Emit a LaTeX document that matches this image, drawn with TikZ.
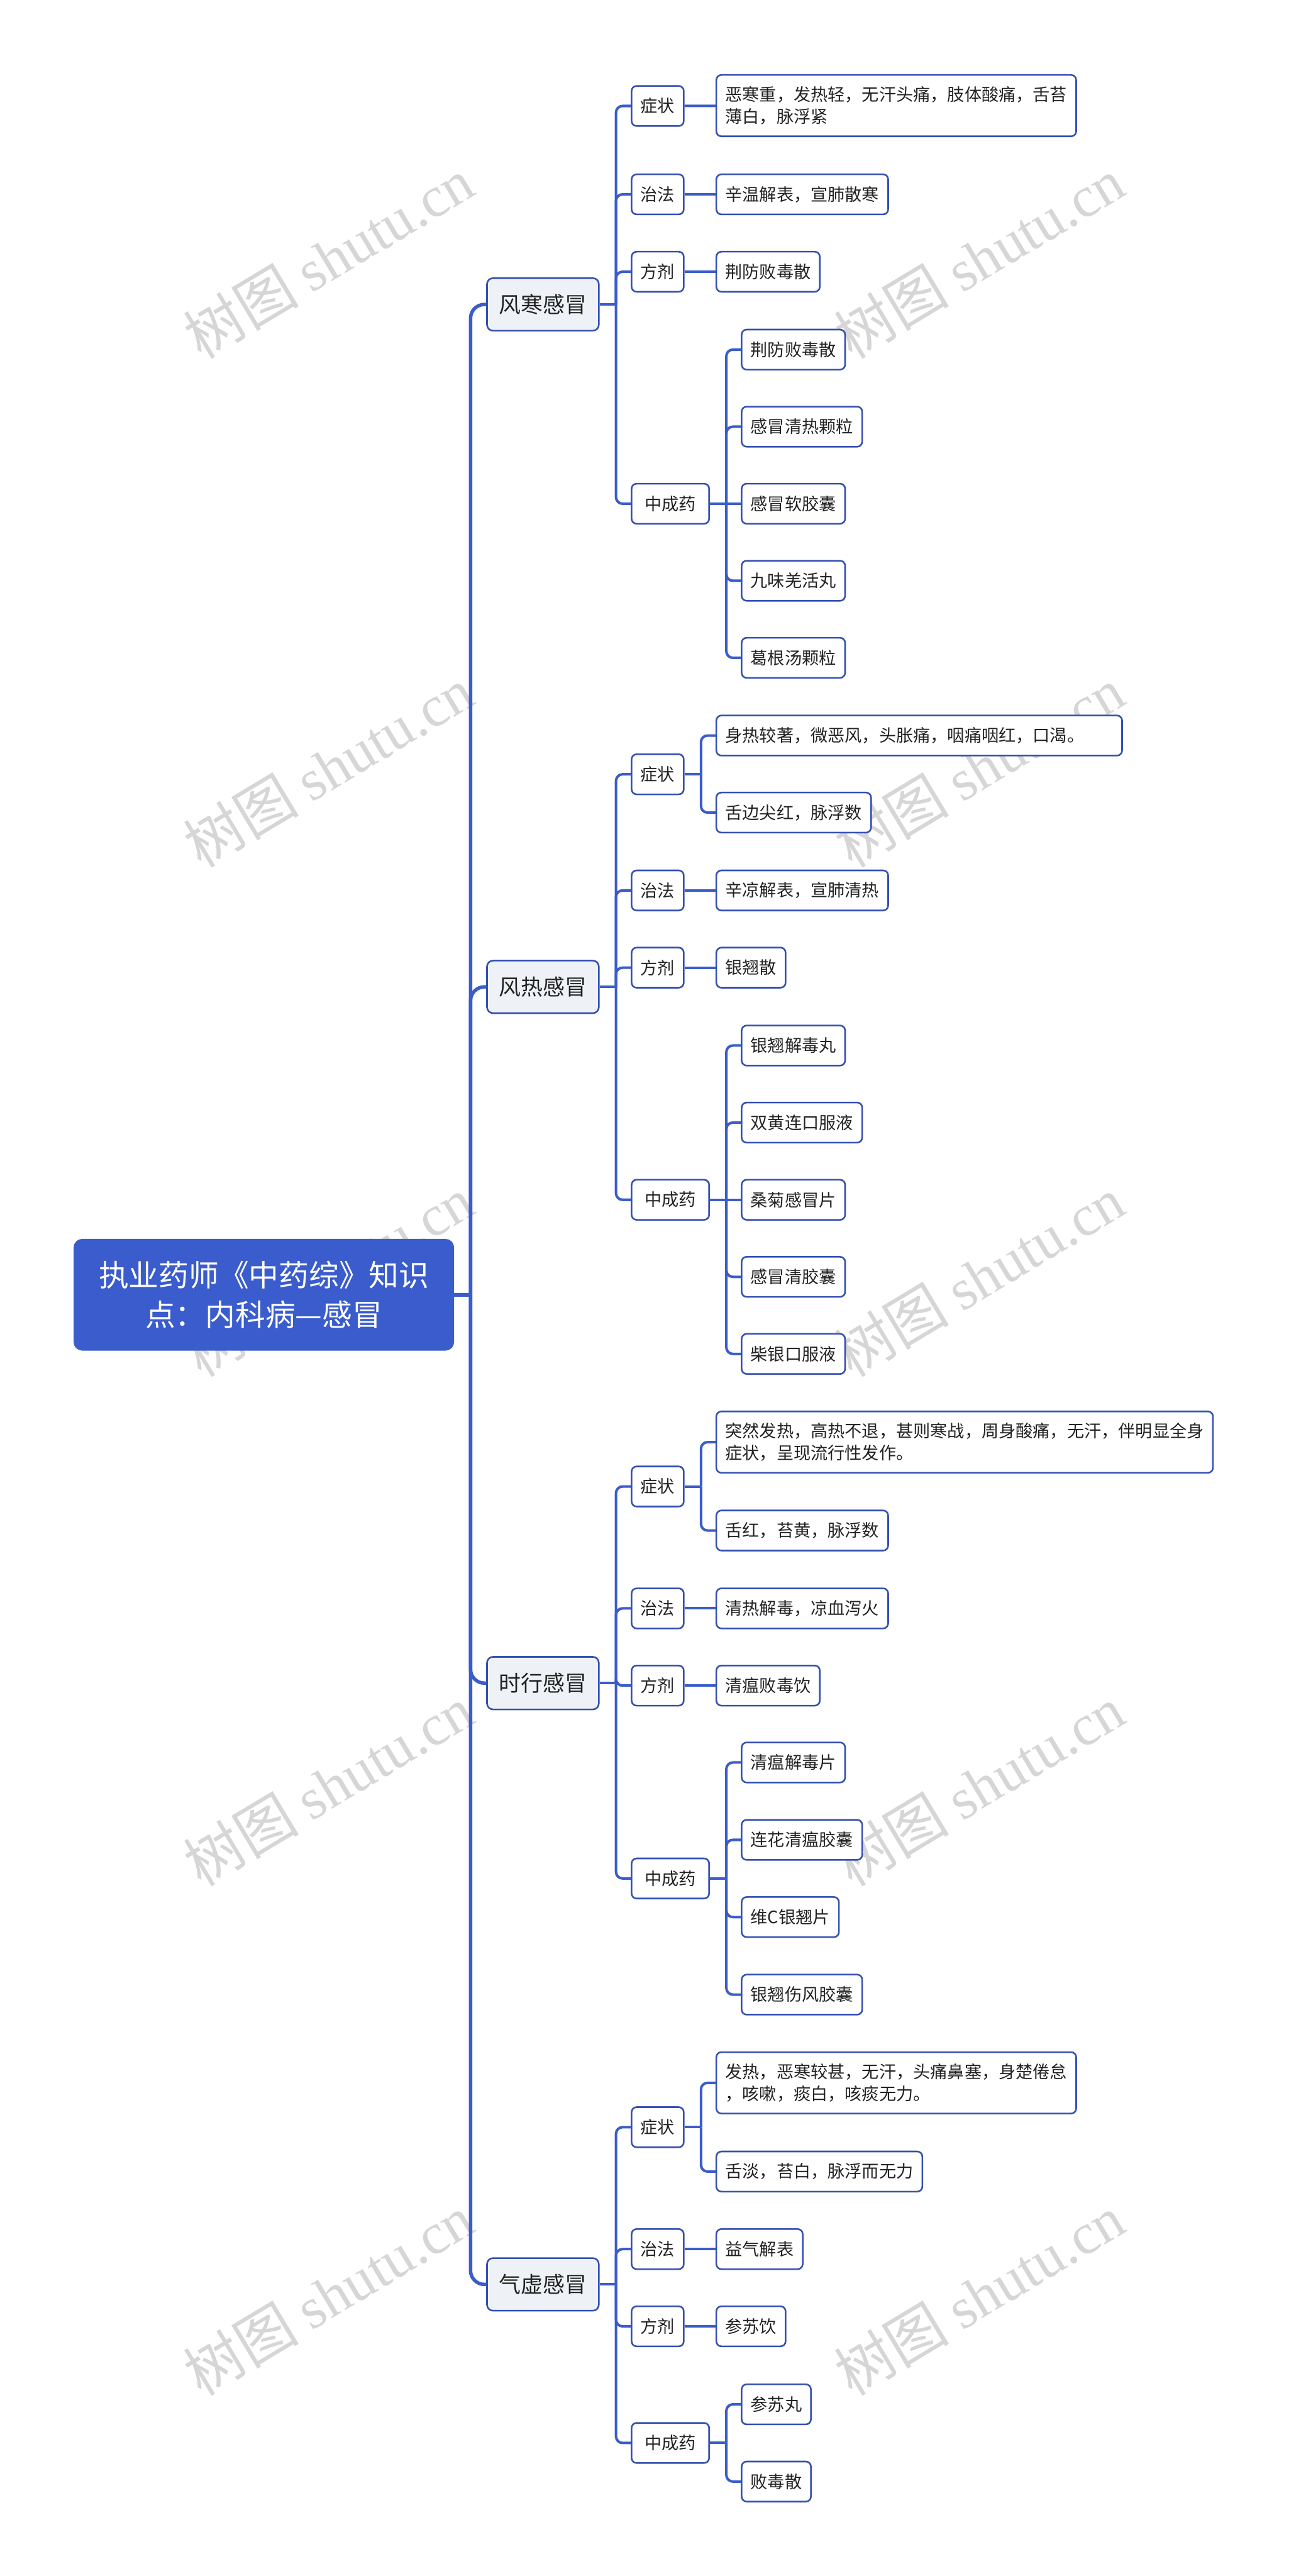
\documentclass[tikz,border=0pt]{standalone}
\usepackage{fontspec}
\setmainfont{Noto Sans CJK SC}
\newfontfamily\wmfont{Liberation Serif}
\usepackage{tikz}

\definecolor{mapblue}{RGB}{58,92,204}
\definecolor{boxblue}{RGB}{52,80,178}
\definecolor{topicfill}{RGB}{238,241,246}
\definecolor{inkgray}{RGB}{34,34,34}
\definecolor{wmgray}{RGB}{214,214,214}

\begin{document}
\begin{tikzpicture}[x=0.025cm,y=-0.025cm]

  \tikzset{rootbox/.style = {rectangle,rounded corners=3.5pt,fill=mapblue,draw=mapblue,text=white,font=\fontsize{13}{16.9}\selectfont,align=center,minimum width=5.775cm,minimum height=1.685cm}}
  \tikzset{topicbox/.style = {rectangle,rounded corners=2.6pt,fill=topicfill,draw=boxblue,line width=0.7pt,text=inkgray,font=\fontsize{9.5}{12}\selectfont,inner xsep=5.2pt,minimum height=0.8cm,anchor=west}}
  \tikzset{subbox/.style = {rectangle,rounded corners=2.2pt,fill=white,draw=boxblue,line width=0.7pt,text=inkgray,font=\fontsize{7.4}{9.5}\selectfont,inner xsep=3.9pt,inner ysep=5pt,minimum height=0.61cm,anchor=west}}
  \tikzset{drugbox/.style = {subbox,minimum width=1.18cm}}
  \tikzset{leafbox/.style = {subbox,align=left}}
  \tikzset{trunkline/.style = {draw=mapblue,line width=1.5pt,rounded corners=6pt}}
  \tikzset{linkline/.style = {draw=mapblue,line width=1.1pt,rounded corners=2.8pt}}
  \tikzset{wmtext/.style = {text=wmgray,font=\fontsize{25}{25}\selectfont,rotate=31,inner sep=0pt}}

  \path[use as bounding box,fill=white] (0,0) rectangle (792,1568);

  % watermarks
  \node[wmtext] (wm1) at (200,157) {树图 {\wmfont shutu.cn}};
  \node[wmtext] (wm2) at (596,157) {树图 {\wmfont shutu.cn}};
  \node[wmtext] (wm3) at (200,467) {树图 {\wmfont shutu.cn}};
  \node[wmtext] (wm4) at (596,467) {树图 {\wmfont shutu.cn}};
  \node[wmtext] (wm5) at (200,777) {树图 {\wmfont shutu.cn}};
  \node[wmtext] (wm6) at (596,777) {树图 {\wmfont shutu.cn}};
  \node[wmtext] (wm7) at (200,1087) {树图 {\wmfont shutu.cn}};
  \node[wmtext] (wm8) at (596,1087) {树图 {\wmfont shutu.cn}};
  \node[wmtext] (wm9) at (200,1397) {树图 {\wmfont shutu.cn}};
  \node[wmtext] (wm10) at (596,1397) {树图 {\wmfont shutu.cn}};

  % root and topics
  \node[rootbox] (root) at (160.65,788.1) {执业药师《中药综》知识\\点：内科病—感冒};
  \node[topicbox] (fh) at (296,185.3)  {风寒感冒};
  \node[topicbox] (fr) at (296,600.7)  {风热感冒};
  \node[topicbox] (sx) at (296,1024.5) {时行感冒};
  \node[topicbox] (qx) at (296,1390.5) {气虚感冒};

  % 风寒感冒
  \node[subbox] (fh-zz)  at (384,64.5)  {症状};
  \node[subbox] (fh-zf)  at (384,118.3) {治法};
  \node[subbox] (fh-fj)  at (384,165.4) {方剂};
  \node[drugbox] (fh-zcy) at (384,306.6) {中成药};
  \node[leafbox] (fh-zz1) at (435.6,64.3) {恶寒重，发热轻，无汗头痛，肢体酸痛，舌苔\\薄白，脉浮紧};
  \node[leafbox] (fh-zf1) at (435.6,118.3) {辛温解表，宣肺散寒};
  \node[leafbox] (fh-fj1) at (435.6,165.4) {荆防败毒散};
  \node[leafbox] (fh-zcy1) at (451,212.8) {荆防败毒散};
  \node[leafbox] (fh-zcy2) at (451,259.7) {感冒清热颗粒};
  \node[leafbox] (fh-zcy3) at (451,306.6) {感冒软胶囊};
  \node[leafbox] (fh-zcy4) at (451,353.5) {九味羌活丸};
  \node[leafbox] (fh-zcy5) at (451,400.4) {葛根汤颗粒};

  % 风热感冒
  \node[subbox] (fr-zz)  at (384,471.3) {症状};
  \node[subbox] (fr-zf)  at (384,542)   {治法};
  \node[subbox] (fr-fj)  at (384,589)   {方剂};
  \node[drugbox] (fr-zcy) at (384,730.3) {中成药};
  \node[leafbox,text width=5.9cm] (fr-zz1) at (435.6,447.7) {身热较著，微恶风，头胀痛，咽痛咽红，口渴。};
  \node[leafbox] (fr-zz2) at (435.6,494.6) {舌边尖红，脉浮数};
  \node[leafbox] (fr-zf1) at (435.6,542) {辛凉解表，宣肺清热};
  \node[leafbox] (fr-fj1) at (435.6,589) {银翘散};
  \node[leafbox] (fr-zcy1) at (451,636.4) {银翘解毒丸};
  \node[leafbox] (fr-zcy2) at (451,683.3) {双黄连口服液};
  \node[leafbox] (fr-zcy3) at (451,730.3) {桑菊感冒片};
  \node[leafbox] (fr-zcy4) at (451,777.2) {感冒清胶囊};
  \node[leafbox] (fr-zcy5) at (451,824.1) {柴银口服液};

  % 时行感冒
  \node[subbox] (sx-zz)  at (384,904.8)  {症状};
  \node[subbox] (sx-zf)  at (384,979)    {治法};
  \node[subbox] (sx-fj)  at (384,1026)   {方剂};
  \node[drugbox] (sx-zcy) at (384,1143.4) {中成药};
  \node[leafbox] (sx-zz1) at (435.6,877.8) {突然发热，高热不退，甚则寒战，周身酸痛，无汗，伴明显全身\\症状，呈现流行性发作。};
  \node[leafbox] (sx-zz2) at (435.6,931.6) {舌红，苔黄，脉浮数};
  \node[leafbox] (sx-zf1) at (435.6,979) {清热解毒，凉血泻火};
  \node[leafbox] (sx-fj1) at (435.6,1026) {清瘟败毒饮};
  \node[leafbox] (sx-zcy1) at (451,1072.8) {清瘟解毒片};
  \node[leafbox] (sx-zcy2) at (451,1119.9) {连花清瘟胶囊};
  \node[leafbox] (sx-zcy3) at (451,1166.9) {维C银翘片};
  \node[leafbox] (sx-zcy4) at (451,1214.1) {银翘伤风胶囊};

  % 气虚感冒
  \node[subbox] (qx-zz)  at (384,1294.8) {症状};
  \node[subbox] (qx-zf)  at (384,1369)   {治法};
  \node[subbox] (qx-fj)  at (384,1416)   {方剂};
  \node[drugbox] (qx-zcy) at (384,1487)   {中成药};
  \node[leafbox] (qx-zz1) at (435.6,1267.8) {发热，恶寒较甚，无汗，头痛鼻塞，身楚倦怠\\，咳嗽，痰白，咳痰无力。};
  \node[leafbox] (qx-zz2) at (435.6,1321.8) {舌淡，苔白，脉浮而无力};
  \node[leafbox] (qx-zf1) at (435.6,1369) {益气解表};
  \node[leafbox] (qx-fj1) at (435.6,1416) {参苏饮};
  \node[leafbox] (qx-zcy1) at (451,1463.5) {参苏丸};
  \node[leafbox] (qx-zcy2) at (451,1510.5) {败毒散};

  % trunk
  \draw[trunkline] (root.east) -- ++(10,0) coordinate (root-j);
  \draw[trunkline] (root-j) |- (fh.west);
  \draw[trunkline] (root-j) |- (fr.west);
  \draw[trunkline] (root-j) |- (sx.west);
  \draw[trunkline] (root-j) |- (qx.west);

  % edges 风寒感冒
  \draw[linkline] (fh.east) -- ++(10,0) coordinate (fh-j);
  \draw[linkline] (fh-j) |- (fh-zz.west);
  \draw[linkline] (fh-j) |- (fh-zf.west);
  \draw[linkline] (fh-j) |- (fh-fj.west);
  \draw[linkline] (fh-j) |- (fh-zcy.west);
  \draw[linkline] (fh-zz) -- (fh-zz1);
  \draw[linkline] (fh-zf) -- (fh-zf1);
  \draw[linkline] (fh-fj) -- (fh-fj1);
  \draw[linkline] (fh-zcy.east) -- ++(10,0) coordinate (fh-zcy-j);
  \draw[linkline] (fh-zcy-j) |- (fh-zcy1.west);
  \draw[linkline] (fh-zcy-j) |- (fh-zcy2.west);
  \draw[linkline] (fh-zcy-j) -- (fh-zcy3.west);
  \draw[linkline] (fh-zcy-j) |- (fh-zcy4.west);
  \draw[linkline] (fh-zcy-j) |- (fh-zcy5.west);

  % edges 风热感冒
  \draw[linkline] (fr.east) -- ++(10,0) coordinate (fr-j);
  \draw[linkline] (fr-j) |- (fr-zz.west);
  \draw[linkline] (fr-j) |- (fr-zf.west);
  \draw[linkline] (fr-j) |- (fr-fj.west);
  \draw[linkline] (fr-j) |- (fr-zcy.west);
  \draw[linkline] (fr-zz.east) -- ++(10,0) coordinate (fr-zz-j);
  \draw[linkline] (fr-zz-j) |- (fr-zz1.west);
  \draw[linkline] (fr-zz-j) |- (fr-zz2.west);
  \draw[linkline] (fr-zf) -- (fr-zf1);
  \draw[linkline] (fr-fj) -- (fr-fj1);
  \draw[linkline] (fr-zcy.east) -- ++(10,0) coordinate (fr-zcy-j);
  \draw[linkline] (fr-zcy-j) |- (fr-zcy1.west);
  \draw[linkline] (fr-zcy-j) |- (fr-zcy2.west);
  \draw[linkline] (fr-zcy-j) -- (fr-zcy3.west);
  \draw[linkline] (fr-zcy-j) |- (fr-zcy4.west);
  \draw[linkline] (fr-zcy-j) |- (fr-zcy5.west);

  % edges 时行感冒
  \draw[linkline] (sx.east) -- ++(10,0) coordinate (sx-j);
  \draw[linkline] (sx-j) |- (sx-zz.west);
  \draw[linkline] (sx-j) |- (sx-zf.west);
  \draw[linkline] (sx-j) |- (sx-fj.west);
  \draw[linkline] (sx-j) |- (sx-zcy.west);
  \draw[linkline] (sx-zz.east) -- ++(10,0) coordinate (sx-zz-j);
  \draw[linkline] (sx-zz-j) |- (sx-zz1.west);
  \draw[linkline] (sx-zz-j) |- (sx-zz2.west);
  \draw[linkline] (sx-zf) -- (sx-zf1);
  \draw[linkline] (sx-fj) -- (sx-fj1);
  \draw[linkline] (sx-zcy.east) -- ++(10,0) coordinate (sx-zcy-j);
  \draw[linkline] (sx-zcy-j) |- (sx-zcy1.west);
  \draw[linkline] (sx-zcy-j) |- (sx-zcy2.west);
  \draw[linkline] (sx-zcy-j) |- (sx-zcy3.west);
  \draw[linkline] (sx-zcy-j) |- (sx-zcy4.west);

  % edges 气虚感冒
  \draw[linkline] (qx.east) -- ++(10,0) coordinate (qx-j);
  \draw[linkline] (qx-j) |- (qx-zz.west);
  \draw[linkline] (qx-j) |- (qx-zf.west);
  \draw[linkline] (qx-j) |- (qx-fj.west);
  \draw[linkline] (qx-j) |- (qx-zcy.west);
  \draw[linkline] (qx-zz.east) -- ++(10,0) coordinate (qx-zz-j);
  \draw[linkline] (qx-zz-j) |- (qx-zz1.west);
  \draw[linkline] (qx-zz-j) |- (qx-zz2.west);
  \draw[linkline] (qx-zf) -- (qx-zf1);
  \draw[linkline] (qx-fj) -- (qx-fj1);
  \draw[linkline] (qx-zcy.east) -- ++(10,0) coordinate (qx-zcy-j);
  \draw[linkline] (qx-zcy-j) |- (qx-zcy1.west);
  \draw[linkline] (qx-zcy-j) |- (qx-zcy2.west);
\end{tikzpicture}
\end{document}
